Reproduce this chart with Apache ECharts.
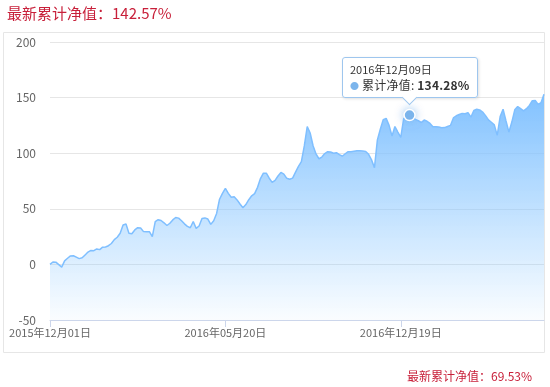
<!DOCTYPE html>
<html>
<head>
<meta charset="utf-8">
<script src="https://cdn.jsdelivr.net/npm/echarts@6/dist/echarts.min.js"></script>
<style>
html,body{margin:0;padding:0;background:#fff;}
#chart{width:550px;height:387px;}
.tip-arrow{position:absolute;left:50%;bottom:-6px;width:10px;height:10px;margin-left:-6px;background:#fff;border-right:1px solid #9ec6ee;border-bottom:1px solid #9ec6ee;transform:rotate(45deg);}
</style>
</head>
<body>
<div id="chart"></div>
<script>
// ---- data ----
const topLabel = '最新累计净值：142.57%';
const bottomLabel = '最新累计净值：69.53%';
const seriesName = '累计净值';
const tickLabels = ['2015年12月01日', '2016年05月20日', '2016年12月19日'];
const highlightDate = '2016-12-09';

const dates = (
'2015-12-01 2015-12-04 2015-12-07 2015-12-10 2015-12-13 2015-12-16 2015-12-19 2015-12-22 2015-12-25 2015-12-28 2015-12-31 ' +
'2016-01-04 2016-01-07 2016-01-10 2016-01-13 2016-01-16 2016-01-19 2016-01-22 2016-01-25 2016-01-28 2016-01-31 ' +
'2016-02-04 2016-02-07 2016-02-10 2016-02-13 2016-02-16 2016-02-19 2016-02-22 2016-02-25 2016-02-28 ' +
'2016-03-03 2016-03-06 2016-03-09 2016-03-12 2016-03-15 2016-03-18 2016-03-21 2016-03-24 2016-03-27 2016-03-30 ' +
'2016-04-03 2016-04-06 2016-04-09 2016-04-12 2016-04-15 2016-04-18 2016-04-21 2016-04-24 2016-04-27 2016-04-30 ' +
'2016-05-04 2016-05-07 2016-05-10 2016-05-13 2016-05-16 2016-05-19 2016-05-22 2016-05-25 2016-05-28 2016-05-31 ' +
'2016-06-03 2016-06-06 2016-06-09 2016-06-12 2016-06-15 2016-06-18 2016-06-21 2016-06-24 2016-06-27 2016-06-30 ' +
'2016-07-03 2016-07-06 2016-07-09 2016-07-12 2016-07-15 2016-07-18 2016-07-21 2016-07-24 2016-07-27 2016-07-30 ' +
'2016-08-02 2016-08-05 2016-08-08 2016-08-11 2016-08-14 2016-08-17 2016-08-20 2016-08-23 2016-08-26 2016-08-29 ' +
'2016-09-01 2016-09-04 2016-09-07 2016-09-10 2016-09-13 2016-09-16 2016-09-19 2016-09-22 2016-09-25 2016-09-28 ' +
'2016-10-01 2016-10-04 2016-10-07 2016-10-10 2016-10-13 2016-10-16 2016-10-19 2016-10-22 2016-10-25 2016-10-28 2016-10-31 ' +
'2016-11-03 2016-11-06 2016-11-09 2016-11-12 2016-11-15 2016-11-18 2016-11-21 2016-11-24 2016-11-27 2016-11-30 ' +
'2016-12-03 2016-12-06 2016-12-09 2016-12-12 2016-12-15 2016-12-18 2016-12-21 2016-12-24 2016-12-27 2016-12-30 ' +
'2017-01-02 2017-01-05 2017-01-08 2017-01-11 2017-01-14 2017-01-17 2017-01-20 2017-01-23 2017-01-26 2017-01-29 ' +
'2017-02-01 2017-02-04 2017-02-07 2017-02-10 2017-02-13 2017-02-16 2017-02-19 2017-02-22 2017-02-25 2017-02-28 ' +
'2017-03-03 2017-03-06 2017-03-09 2017-03-12 2017-03-15 2017-03-18 2017-03-21 2017-03-24 2017-03-27 2017-03-30 ' +
'2017-04-02 2017-04-05 2017-04-08 2017-04-11 2017-04-14 2017-04-17 2017-04-20 2017-04-23 2017-04-26'
).split(' ');

const values = [
  0, 2.2, 2, -0.2, -2.5, 3.2, 5.5, 7.6, 7.8, 6.5,
  5.2, 5.9, 8.5, 11.1, 12.6, 12.3, 13.9, 13.3, 15.5, 15.7,
  16.8, 18.8, 22.3, 24.4, 28, 35.5, 36.3, 28, 27.5, 31,
  33, 32.8, 29.5, 29.4, 29.4, 25, 38.5, 40.2, 39.5, 37.4,
  35, 37, 40, 42.2, 41.6, 39.3, 36.5, 34.2, 33, 38.6,
  32.4, 34.5, 41.3, 41.8, 40.8, 36, 39.3, 45.8, 58.6, 63.8,
  68.4, 63.9, 60.4, 60.8, 58, 54.3, 51, 53.8, 58.2, 61.7,
  63.7, 69.3, 77.2, 82, 82, 77.5, 73.7, 75.5, 79.5, 82.7,
  81.2, 77.4, 76.6, 77.6, 83, 88.2, 92.5, 106.5, 124, 118.2,
  106.7, 99.3, 95, 96.5, 99.7, 101.4, 101.1, 100, 100.5, 98.8,
  97.3, 99.5, 101.4, 101.4, 101.8, 102.2, 102.1, 102, 101.6, 99,
  94, 87, 112, 121.5, 130.2, 131.3, 125, 115.5, 124, 119,
  114.3, 131, 133.8, 134.28, 132.2, 130.4, 129.2, 127.6, 129.8, 128.7,
  126.8, 123.8, 123.8, 123.5, 122.9, 123, 124, 125, 131.7, 133.7,
  134.8, 135.8, 135.5, 136.5, 132.4, 138.4, 139.5, 138.9, 137, 133.8,
  130, 127.8, 125.5, 116, 133, 139.5, 129, 119, 128, 139,
  142, 140, 138, 140, 143, 147.2, 147.5, 143.9, 145.5, 153
];

const yMin = -50, yMax = 200, yStep = 50;
const labelEvery = 60;

// ---- chart ----
const FONT = "'Noto Sans CJK SC', 'Microsoft YaHei', sans-serif";
const HFONT = FONT.replace(/'/g, '&quot;');
const chart = echarts.init(document.getElementById('chart'), null, {renderer: 'canvas'});

function fmtDate(s) {
  const p = s.split('-');
  return p[0] + '年' + p[1] + '月' + p[2] + '日';
}

chart.setOption({
  animation: false,
  textStyle: {fontFamily: FONT},
  title: [
    {text: topLabel, left: 2, top: 1, textStyle: {color: '#c8203a', fontSize: 15, fontWeight: 'normal', fontFamily: FONT}},
    {text: bottomLabel, right: 13, top: 365, textStyle: {color: '#c8203a', fontSize: 12, fontWeight: 'normal', fontFamily: FONT}}
  ],
  graphic: [{
    type: 'rect', silent: true, z: -1,
    shape: {x: 3.5, y: 32.5, width: 541, height: 320},
    style: {fill: 'none', stroke: '#e6e6e6', lineWidth: 1}
  }],
  grid: {left: 50, right: 6, top: 42, bottom: 67},
  tooltip: {
    trigger: 'axis',
    axisPointer: {type: 'none'},
    alwaysShowContent: true,
    transitionDuration: 0,
    backgroundColor: 'rgba(255,255,255,0.96)',
    borderColor: '#9ec6ee',
    borderWidth: 1,
    padding: [5, 7, 3, 7],
    extraCssText: 'border-radius:3px;box-shadow:1px 1px 3px rgba(0,0,0,0.12);',
    position: function (pt, params, dom, rect, size) {
      return [pt[0] - size.contentSize[0] / 2, pt[1] - size.contentSize[1] - 17];
    },
    formatter: function (params) {
      const p = params[0];
      return '<div style="font-family:' + HFONT + ';font-size:11px;color:#333;line-height:13px;">' + fmtDate(p.name) + '</div>' +
        '<div style="font-family:' + HFONT + ';font-size:12px;color:#333;line-height:17px;letter-spacing:0.2px;">' +
        '<span style="color:#7cb5ec;font-size:9px;vertical-align:1px;">●</span> ' + p.seriesName + ': <b>' + Number(p.value).toFixed(2) + '%</b></div>' +
        '<div class="tip-arrow"></div>';
    }
  },
  xAxis: {
    type: 'category',
    data: dates,
    boundaryGap: false,
    axisLine: {onZero: false, lineStyle: {color: '#ccd6eb'}},
    axisTick: {alignWithLabel: true, interval: labelEvery - 1, length: 7, lineStyle: {color: '#ccd6eb'}},
    axisLabel: {
      interval: labelEvery - 1,
      margin: 7,
      color: '#666',
      fontSize: 11,
      fontFamily: FONT,
      formatter: function (v, idx) { return tickLabels[idx / labelEvery] || ''; }
    },
    splitLine: {show: false}
  },
  yAxis: {
    type: 'value',
    min: yMin, max: yMax, interval: yStep,
    axisLine: {show: false},
    axisTick: {show: false},
    axisLabel: {color: '#666', fontSize: 12, margin: 14, fontFamily: FONT},
    splitLine: {lineStyle: {color: '#e6e6e6'}}
  },
  series: [{
    name: seriesName,
    type: 'line',
    data: values,
    showSymbol: false,
    symbol: 'circle',
    symbolSize: 11,
    lineStyle: {color: '#74aeea', width: 1.5},
    itemStyle: {color: '#7cb5ec', borderColor: '#fff', borderWidth: 1},
    areaStyle: {
      origin: 'start',
      opacity: 1,
      color: new echarts.graphic.LinearGradient(0, 0, 0, 1, [
        {offset: 0, color: 'rgba(118,176,234,1)'},
        {offset: 1, color: 'rgba(124,181,236,0.04)'}
      ])
    },
    emphasis: {
      scale: false,
      lineStyle: {width: 1.5},
      areaStyle: {opacity: 1},
      itemStyle: {color: '#7cb5ec', borderColor: '#fff', borderWidth: 1.5, shadowColor: 'rgba(124,181,236,0.7)', shadowBlur: 8}
    }
  }]
});

chart.dispatchAction({type: 'showTip', seriesIndex: 0, dataIndex: dates.indexOf(highlightDate)});
</script>
</body>
</html>
